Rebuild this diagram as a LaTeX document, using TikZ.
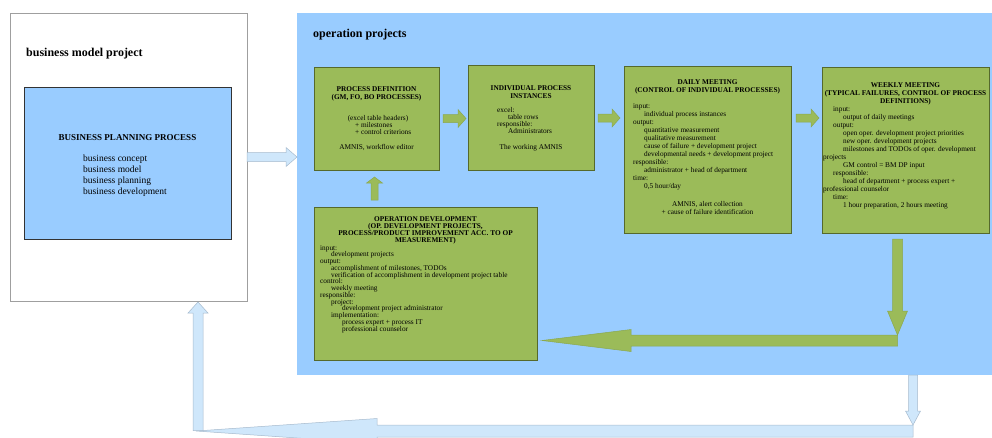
\documentclass[tikz,border=0pt]{standalone}
\usepackage{fontspec}
\setmainfont{Liberation Serif}
\usetikzlibrary{calc}
\definecolor{opblue}{HTML}{99CCFF}
\definecolor{bgreen}{HTML}{9BBB59}
\definecolor{bgreenline}{HTML}{55692C}
\definecolor{agreenline}{HTML}{8BA84F}
\definecolor{lblue}{HTML}{CFE7FB}
\definecolor{lblueline}{HTML}{A6BACD}

\tikzset{
  txt/.style={inner sep=0pt, font=\fontsize{7.3}{8}\selectfont},
  ttl/.style={inner sep=0pt, font=\bfseries\fontsize{7.3}{8}\selectfont},
  gbox/.style={fill=bgreen, draw=bgreenline, line width=0.7pt, inner sep=0pt, outer sep=0pt},
  bbox/.style={fill=opblue, draw=black!80, line width=0.7pt, inner sep=0pt, outer sep=0pt},
  wbox/.style={fill=white, draw=gray!75, line width=0.8pt, inner sep=0pt, outer sep=0pt},
  region/.style={fill=opblue, inner sep=0pt, outer sep=0pt},
  garrow/.style={fill=bgreen, draw=agreenline, line width=0.5pt},
  larrow/.style={fill=lblue, draw=lblueline, line width=0.5pt},
}

% horizontal block arrow: style, tail, tip, shaft half, head half, head length
\newcommand\harrow[6]{%
\path[#1] let \p1=(#2), \p2=(#3), \n1={ifthenelse(\x2>\x1,1,-1)} in
 (\x1,\y1+#4) -- ({\x2-(\n1)*#6},\y1+#4) -- ({\x2-(\n1)*#6},\y1+#5) -- (\x2,\y1)
 -- ({\x2-(\n1)*#6},\y1-#5) -- ({\x2-(\n1)*#6},\y1-#4) -- (\x1,\y1-#4) -- cycle;}
% vertical block arrow
\newcommand\varrow[6]{%
\path[#1] let \p1=(#2), \p2=(#3), \n1={ifthenelse(\y2>\y1,1,-1)} in
 (\x1+#4,\y1) -- (\x1+#4,{\y2-(\n1)*#6}) -- (\x1+#5,{\y2-(\n1)*#6}) -- (\x1,\y2)
 -- (\x1-#5,{\y2-(\n1)*#6}) -- (\x1-#4,{\y2-(\n1)*#6}) -- (\x1-#4,\y1) -- cycle;}
% box node from corners
\newcommand\boxnode[6]{%
\node[#2, anchor=north west, minimum width={(#5-#3)*1pt}, minimum height={(#6-#4)*1pt}] (#1) at (#3,#4) {};}
% left aligned lines: name, x0, first baseline, leading, list of indent/text
\newcommand\leftlines[5]{%
\foreach[count=\k from 0] \dx/\tx in {#5}{\node[txt, anchor=base west] (#1-\k) at ({#2+\dx},{#3+\k*#4}) {\tx};}}
% centred lines: name, style, x, first baseline, leading, list
\newcommand\midlines[6]{%
\foreach[count=\k from 0] \tx in {#6}{\node[#2, anchor=base] (#1-\k) at (#3,{#4+\k*#5}) {\tx};}}

\begin{document}
\begin{tikzpicture}[x=1pt, y=-1pt]
\useasboundingbox (0,0) rectangle (992,437);

% regions
\boxnode{ops}{region}{297}{13}{995}{375}
\boxnode{bmp}{wbox}{10}{13}{247}{301}
\boxnode{bpp}{bbox}{24}{87}{231}{239}

\node[inner sep=0pt, anchor=base west, font=\bfseries\fontsize{12}{14}\selectfont] (bmpt) at (26,56) {business model project};
\node[inner sep=0pt, anchor=base west, font=\bfseries\fontsize{12}{14}\selectfont] (opst) at (313,37) {operation projects};

\node[inner sep=0pt, anchor=base, font=\bfseries\fontsize{9}{11}\selectfont] (bppt) at (127.5,140) {BUSINESS PLANNING PROCESS};
\foreach[count=\k from 0] \tx in {business concept, business model, business planning, business development}
  {\node[inner sep=0pt, anchor=base west, font=\fontsize{9.5}{11}\selectfont] (bpp-\k) at (83,{161+\k*11}) {\tx};}

% green boxes
\boxnode{pd}{gbox}{314}{67}{439}{170}
\boxnode{ipi}{gbox}{468}{65}{594}{170}
\boxnode{dm}{gbox}{624}{66}{791}{233}
\boxnode{wm}{gbox}{822}{67}{989}{233}
\boxnode{od}{gbox}{314}{207}{537}{360}

% process definition
\midlines{pdt}{ttl}{376.5}{91}{8}{PROCESS DEFINITION,{(GM, FO, BO PROCESSES)}}
\midlines{pdx}{txt}{378}{120}{7}{(excel table headers)}
\leftlines{pdb}{355}{127}{7}{0/+ milestones, 0/+ control criterions}
\midlines{pda}{txt}{376.5}{149}{8}{{AMNIS, workflow editor}}

% individual process instances
\midlines{ipit}{ttl}{531}{90}{8}{INDIVIDUAL PROCESS, INSTANCES}
\leftlines{ipib}{497}{112}{7}{0/excel:, 11/table rows, 0/responsible:, 11/Administrators}
\midlines{ipia}{txt}{531}{149}{8}{The working AMNIS}

% daily meeting
\midlines{dmt}{ttl}{707.5}{84}{8}{DAILY MEETING,(CONTROL OF INDIVIDUAL PROCESSES)}
\leftlines{dmb}{633}{108}{8}{0/input:, 11/individual process instances, 0/output:, 11/quantitative measurement, 11/qualitative measurement, 11/cause of failure + development project, 11/developmental needs + development project, 0/responsible:, 11/administrator + head of department, 0/time:, 11/{0,5 hour/day}}
\midlines{dma}{txt}{707.5}{206}{8}{{AMNIS, alert collection},+ cause of failure identification}

% weekly meeting
\midlines{wmt}{ttl}{905.5}{87}{8}{WEEKLY MEETING,{(TYPICAL FAILURES, CONTROL OF PROCESS},DEFINITIONS)}
\leftlines{wmb}{822}{111}{8}{11/input:, 21/output of daily meetings, 11/output:, 21/open oper. development project priorities, 21/new oper. development projects, 21/milestones and TODOs of oper. development, 1/projects, 21/GM control = BM DP input, 11/responsible:, 21/head of department + process expert +, 1/professional counselor, 11/time:, 21/{1 hour preparation, 2 hours meeting}}

% operation development
\midlines{odt}{ttl}{425.5}{221}{7}{OPERATION DEVELOPMENT,{(OP. DEVELOPMENT PROJECTS,},PROCESS/PRODUCT IMPROVEMENT ACC. TO OP,MEASUREMENT)}
\leftlines{odb}{320}{250}{6.75}{0/input:, 11/development projects, 0/output:, 11/{accomplishment of milestones, TODOs}, 11/verification of accomplishment in development project table, 0/control:, 11/weekly meeting, 0/responsible:, 11/project:, 22/development project administrator, 11/implementation:, 22/process expert + process IT, 22/professional counselor}

% green arrows
\harrow{garrow}{$(pd.east)+(4,0)$}{$(ipi.west)+(-2,0)$}{4}{9}{8}
\harrow{garrow}{$(ipi.east)+(4,0.5)$}{$(dm.west)+(-4,0)$}{4}{9}{8}
\coordinate (a3) at ($(dm.north east)+(5,52)$);
\harrow{garrow}{a3}{$(wm.west |- a3)+(-3,0)$}{4}{9}{8}
\varrow{garrow}{$(pd.south)+(-2,30)$}{$(pd.south)+(-2,7)$}{3.5}{8}{6}
\coordinate (d5) at ($(wm.south)+(-8,6)$);
\coordinate (c5) at ($(wm.south)+(-8,102)$);
\varrow{garrow}{d5}{c5}{5}{10}{24}
\coordinate (h6) at ($(c5)+(0,5.5)$);
\harrow{garrow}{h6}{$(od.east |- h6)+(5,0)$}{5.5}{11}{89}

% light blue arrows
\harrow{larrow}{bmp.east}{$(ops.west |- bmp.east)$}{4.5}{9.5}{11}
\coordinate (l2) at ($(ops.south east)+(-82,0)$);
\coordinate (l2b) at ($(l2)+(0,50)$);
\varrow{larrow}{l2}{l2b}{4.5}{7.5}{14}
\coordinate (l3) at ($(l2b)+(0,6)$);
\coordinate (l3t) at ($(bmp.south west)+(186,130)$);
\harrow{larrow}{l3}{l3t}{6}{12.5}{181}
\coordinate (l4) at ($(bmp.south west)+(188,129.5)$);
\coordinate (l4t) at ($(bmp.south west)+(188,1)$);
\varrow{larrow}{l4}{l4t}{5}{10}{11}
\end{tikzpicture}
\end{document}
